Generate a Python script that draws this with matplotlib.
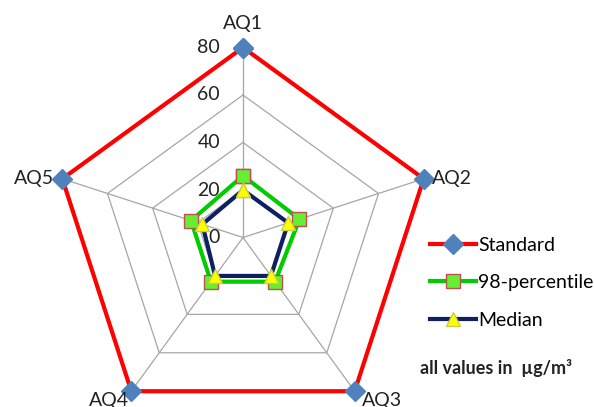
import numpy as np
import matplotlib
matplotlib.use("Agg")
import matplotlib.pyplot as plt

plt.rcParams['font.family'] = ['Lato', 'DejaVu Sans']

stations = ['AQ1', 'AQ2', 'AQ3', 'AQ4', 'AQ5']
standard = [80, 80, 80, 80, 80]
perc98 = [26, 25, 23, 23, 23]
median = [20, 20, 20, 20, 18]
rticks = [0, 20, 40, 60, 80]

W, H = 594, 407
cx, cy, R = 243, 237.5, 190   # centre and outer radius in pixels

fig = plt.figure(figsize=(W / 100, H / 100), dpi=100)
ax = fig.add_axes([(cx - R) / W, (H - cy - R) / H, 2 * R / W, 2 * R / H],
                  projection='polar')
ax.set_theta_zero_location('N')
ax.set_theta_direction(-1)
ax.set_ylim(0, 80)
ax.set_xticks([])
ax.set_yticks([])
ax.grid(False)
ax.spines['polar'].set_visible(False)
ax.patch.set_visible(False)

theta = np.linspace(0, 2 * np.pi, len(stations), endpoint=False)
closed = np.append(theta, theta[0])

def close(v):
    return np.append(v, v[0])

# polygon grid and spokes
for r in rticks[1:]:
    ax.plot(closed, [r] * len(closed), color='#a6a6a6', lw=0.9, zorder=1,
            clip_on=False)
for t in theta:
    ax.plot([t, t], [0, 80], color='#a6a6a6', lw=0.9, zorder=1, clip_on=False)

# radial tick labels left of the first spoke
for r in rticks:
    ax.annotate(str(r), xy=(0, r), xytext=(-23, 0), textcoords='offset pixels',
                ha='right', va='center', fontsize=14, color='#222222')

l_std, = ax.plot(closed, close(standard), color='#ff0000', lw=3, marker='D',
                 ms=10, mfc='#4f81bd', mec='#4f81bd', zorder=3, clip_on=False)
l_98, = ax.plot(closed, close(perc98), color='#00cc00', lw=3, marker='s',
                ms=10, mfc='#66ee33', mec='#c0504d', mew=1, zorder=4,
                clip_on=False)
l_med, = ax.plot(closed, close(median), color='#0f2060', lw=3, marker='^',
                 ms=10, mfc='#ffff00', mec='#c8d040', mew=1, zorder=5,
                 clip_on=False)

# station names around the vertices
offsets = [(0, 24, 'center', 'center'), (8, 0, 'left', 'center'),
           (7, -9, 'left', 'center'), (-2, -9, 'right', 'center'),
           (-8, 0, 'right', 'center')]
for t, name, (dx, dy, ha, va) in zip(theta, stations, offsets):
    ax.annotate(name, xy=(t, 80), xytext=(dx, dy), textcoords='offset pixels',
                ha=ha, va=va, fontsize=14, color='#222222')

fig.legend([l_std, l_98, l_med], ['Standard', '98-percentile', 'Median'],
           loc='upper left', bbox_to_anchor=(422 / W, 1 - 229 / H),
           frameon=False, fontsize=14, handlelength=2.4, handletextpad=0.1,
           labelspacing=1.05, borderaxespad=0)

fig.text(420 / W, 1 - 368 / H, 'all values in  \u00b5g/m\u00b3', fontsize=13,
         fontweight='bold', ha='left', va='center', color='#222222')

fig.savefig('out.png', dpi=100)
